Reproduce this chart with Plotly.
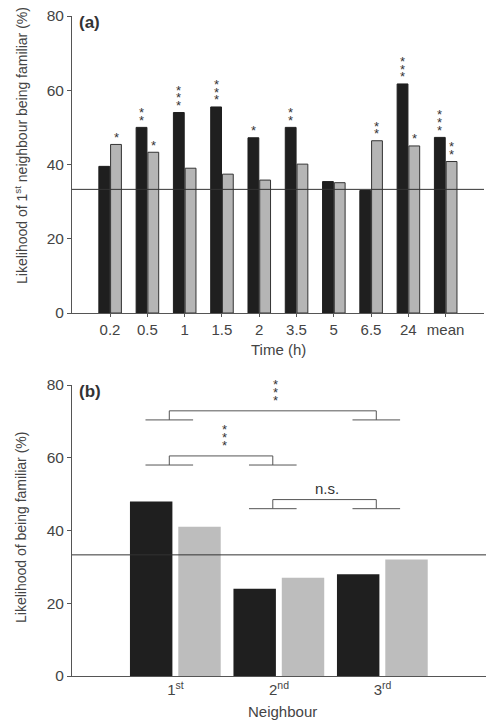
import plotly.graph_objects as go

# ---------------- data ----------------
times = ["0.2", "0.5", "1", "1.5", "2", "3.5", "5", "6.5", "24", "mean"]
first_black = [39.5, 50.0, 54.0, 55.5, 47.2, 50.0, 35.4, 33.0, 61.7, 47.3]
first_gray = [45.4, 43.3, 39.0, 37.4, 35.8, 40.1, 35.1, 46.4, 45.0, 40.8]
stars_black = [0, 2, 3, 3, 1, 2, 0, 0, 3, 3]
stars_gray = [1, 1, 0, 0, 0, 0, 0, 2, 1, 2]

neighbours = ["1<sup>st</sup>", "2<sup>nd</sup>", "3<sup>rd</sup>"]
nb_black = [48.0, 24.0, 28.0]
nb_gray = [41.0, 27.0, 32.0]

chance_level = 33.3
y_ticks = [0, 20, 40, 60, 80]
# comparisons: (left category index, right category index, bracket height, label)
comparisons = [(0, 2, 72.9, "***"), (0, 1, 60.5, "***"), (1, 2, 48.5, "n.s.")]

FONT = "Liberation Sans, Arial, Helvetica, sans-serif"
TXT = "#444444"
BLACK = "#1f1f1f"
GRAY_A = "#b5b5b5"
GRAY_B = "#bdbdbd"
LINE = "#555555"

fig = go.Figure()

# ---------- panel (a) ----------
fig.add_trace(go.Bar(x=times, y=first_black, xaxis="x", yaxis="y",
                     marker=dict(color=BLACK, line=dict(color=BLACK, width=1)),
                     width=0.29, offset=-0.30, showlegend=False, hoverinfo="skip"))
fig.add_trace(go.Bar(x=times, y=first_gray, xaxis="x", yaxis="y",
                     marker=dict(color=GRAY_A, line=dict(color="#333333", width=1)),
                     width=0.29, offset=0.015, showlegend=False, hoverinfo="skip"))

# ---------- panel (b) ----------
fig.add_trace(go.Bar(x=neighbours, y=nb_black, xaxis="x2", yaxis="y2",
                     marker=dict(color=BLACK, line=dict(width=0)),
                     width=0.41, offset=-0.44, showlegend=False, hoverinfo="skip"))
fig.add_trace(go.Bar(x=neighbours, y=nb_gray, xaxis="x2", yaxis="y2",
                     marker=dict(color=GRAY_B, line=dict(width=0)),
                     width=0.41, offset=0.027, showlegend=False, hoverinfo="skip"))

annotations = []
shapes = []

# significance stars on panel (a)
def add_stars(idx, val, n, dx):
    for k in range(n):
        annotations.append(dict(x=idx + dx, y=val, xref="x", yref="y", text="*",
                                showarrow=False, xanchor="center", yanchor="middle",
                                yshift=7 + 7.7 * k, font=dict(size=13, color="#333333", family=FONT)))

for i in range(len(times)):
    add_stars(i, first_black[i], stars_black[i], -0.155)
    add_stars(i, first_gray[i], stars_gray[i], 0.16)

# chance lines
for xr, yr in (("x", "y"), ("x2", "y2")):
    shapes.append(dict(type="line", xref=f"{xr} domain", yref=yr, x0=0, x1=1,
                       y0=chance_level, y1=chance_level, line=dict(color="#333333", width=1)))

# brackets on panel (b)
off = -0.06
half = 0.23
drop = 2.5
for a, b, h, lab in comparisons:
    xa, xb = a + off, b + off
    shapes.append(dict(type="line", xref="x2", yref="y2", x0=xa, x1=xb, y0=h, y1=h, line=dict(color=LINE, width=1)))
    for xx in (xa, xb):
        shapes.append(dict(type="line", xref="x2", yref="y2", x0=xx, x1=xx, y0=h, y1=h - drop, line=dict(color=LINE, width=1)))
        shapes.append(dict(type="line", xref="x2", yref="y2", x0=xx - half, x1=xx + half, y0=h - drop, y1=h - drop, line=dict(color=LINE, width=1)))
    mid = (xa + xb) / 2
    if lab == "n.s.":
        annotations.append(dict(x=mid + 0.02, y=h, xref="x2", yref="y2", text="n.s.", showarrow=False,
                                xanchor="center", yanchor="middle", yshift=11,
                                font=dict(size=15, color="#333333", family=FONT)))
    else:
        for k in range(len(lab)):
            annotations.append(dict(x=mid + 0.03, y=h, xref="x2", yref="y2", text="*", showarrow=False,
                                    xanchor="center", yanchor="middle", yshift=10 + 8 * k,
                                    font=dict(size=13, color="#333333", family=FONT)))

# panel labels
annotations.append(dict(x=77 / 501, y=1 - 23 / 725, xref="paper", yref="paper", text="<b>(a)</b>", showarrow=False,
                        xanchor="left", yanchor="middle", font=dict(size=17, color="#333333", family=FONT)))
annotations.append(dict(x=77 / 501, y=1 - 392 / 725, xref="paper", yref="paper", text="<b>(b)</b>", showarrow=False,
                        xanchor="left", yanchor="middle", font=dict(size=17, color="#333333", family=FONT)))

# axis titles
annotations.append(dict(x=21 / 501, y=1 - 146 / 725, xref="paper", yref="paper",
                        text="Likelihood of 1<sup>st</sup> neighbour being familiar (%)", textangle=-90,
                        showarrow=False, xanchor="center", yanchor="middle",
                        font=dict(size=14, color=TXT, family=FONT)))
annotations.append(dict(x=21 / 501, y=1 - 528 / 725, xref="paper", yref="paper",
                        text="Likelihood of being familiar (%)", textangle=-90,
                        showarrow=False, xanchor="center", yanchor="middle",
                        font=dict(size=14, color=TXT, family=FONT)))
annotations.append(dict(x=278 / 501, y=1 - 349 / 725, xref="paper", yref="paper", text="Time (h)",
                        showarrow=False, xanchor="center", yanchor="middle",
                        font=dict(size=15, color=TXT, family=FONT)))
annotations.append(dict(x=282 / 501, y=1 - 711 / 725, xref="paper", yref="paper", text="Neighbour",
                        showarrow=False, xanchor="center", yanchor="middle",
                        font=dict(size=15, color=TXT, family=FONT)))

yax = dict(range=[0, 80], tickvals=y_ticks, showgrid=False, zeroline=False, showline=True,
           linecolor=LINE, linewidth=1, ticks="outside", ticklen=4, tickcolor=LINE, automargin=False,
           tickfont=dict(size=15.5, color=TXT, family=FONT))

fig.update_layout(
    template="none",
    width=501, height=725,
    margin=dict(l=0, r=0, t=0, b=0, pad=0),
    paper_bgcolor="white", plot_bgcolor="white",
    barmode="overlay",
    showlegend=False,
    hovermode=False,
    xaxis=dict(domain=[72 / 501, 484 / 501], anchor="y", type="category", range=[-1.02, 10.03],
               showgrid=False, zeroline=False, showline=True, linecolor=LINE, linewidth=1,
               ticks="outside", ticklen=3, tickcolor=LINE, automargin=False,
               tickfont=dict(size=15, color=TXT, family=FONT)),
    yaxis=dict(domain=[1 - 313 / 725, 1 - 16 / 725], anchor="x", **yax),
    xaxis2=dict(domain=[72 / 501, 486 / 501], anchor="y2", type="category", range=[-1.0, 3.0],
                showgrid=False, zeroline=False, showline=True, linecolor=LINE, linewidth=1,
                ticks="", automargin=False, tickfont=dict(size=15, color=TXT, family=FONT)),
    yaxis2=dict(domain=[1 - 676 / 725, 1 - 385 / 725], anchor="x2", **yax),
    annotations=annotations,
    shapes=shapes,
)

fig.write_html("out.html", config={"displayModeBar": False, "staticPlot": True},
               post_script="document.body.style.margin='0px';document.body.style.overflow='hidden';")
